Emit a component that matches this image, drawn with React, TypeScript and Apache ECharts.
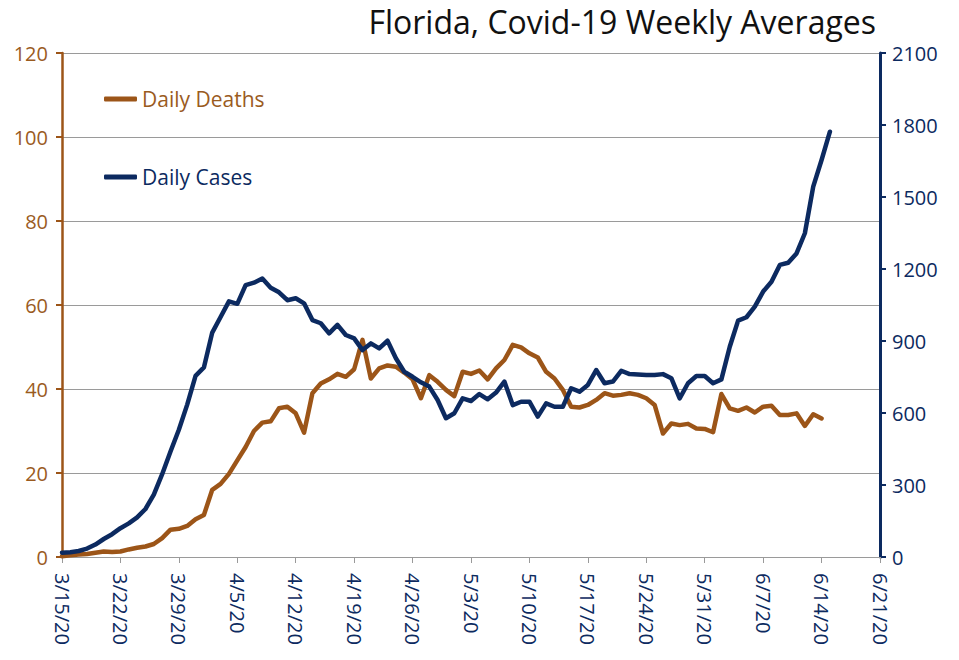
import React, { useEffect, useRef } from "react";
import * as echarts from "echarts";

const TITLE = "Florida, Covid-19 Weekly Averages";
const START_DATE = "2020-03-15";
const DAY_COUNT = 99; // 3/15/20 .. 6/21/20

const deaths: number[] = [
  0.2, 0.4, 0.6, 0.7, 1.0, 1.3, 1.2, 1.3, 1.8, 2.2,
  2.5, 3.1, 4.5, 6.5, 6.7, 7.4, 9.0, 10.0, 16.0, 17.4,
  19.8, 23.0, 26.2, 30.0, 32.0, 32.3, 35.4, 35.8, 34.2, 29.6,
  39.0, 41.3, 42.3, 43.6, 42.9, 44.7, 51.7, 42.5, 44.9, 45.6,
  45.3, 43.9, 42.3, 37.8, 43.3, 41.7, 39.8, 38.3, 44.1, 43.6,
  44.4, 42.3, 44.9, 46.9, 50.5, 49.9, 48.5, 47.5, 44.1, 42.5,
  39.8, 35.8, 35.6, 36.2, 37.4, 39.0, 38.4, 38.6, 39.0, 38.6,
  37.8, 36.2, 29.4, 31.8, 31.4, 31.7, 30.6, 30.5, 29.7, 38.8,
  35.4, 34.8, 35.6, 34.4, 35.8, 36.0, 33.8, 33.8, 34.2, 31.2,
  34.0, 33.0,
];

const cases: number[] = [
  18, 20, 25, 35, 52, 75, 95, 120, 140, 165,
  200, 260, 345, 440, 530, 635, 755, 790, 935, 1000,
  1065, 1055, 1133, 1143, 1160, 1122, 1103, 1070, 1078, 1057,
  987, 974, 932, 967, 925, 911, 862, 890, 869, 901,
  828, 772, 751, 728, 710, 654, 578, 599, 661, 650,
  679, 657, 685, 731, 633, 647, 647, 585, 640, 626,
  626, 703, 689, 717, 779, 724, 731, 776, 762, 760,
  758, 758, 762, 745, 661, 724, 754, 754, 724, 740,
  876, 985, 999, 1043, 1106, 1147, 1217, 1226, 1265, 1349,
  1543, 1654, 1772,
];

const leftTicks = { min: 0, max: 120, interval: 20 };
const rightTicks = { min: 0, max: 2100, interval: 300 };

const BROWN = "#9C5518";
const BROWN_TEXT = "#9A5B1E";
const NAVY = "#0C2A60";
const GRID = "#9a9a9a";
const FONT = "Open Sans";

function buildDates(): string[] {
  const out: string[] = [];
  const d0 = new Date(START_DATE + "T12:00:00");
  for (let i = 0; i < DAY_COUNT; i++) {
    const d = new Date(d0.getTime() + i * 86400000);
    out.push(`${d.getMonth() + 1}/${d.getDate()}/${String(d.getFullYear()).slice(2)}`);
  }
  return out;
}

export default function App() {
  const ref = useRef<HTMLDivElement>(null);
  useEffect(() => {
    if (!ref.current) return;
    const chart = echarts.init(ref.current, undefined, { renderer: "svg" });
    const dates = buildDates();
    chart.setOption({
      animation: false,
      backgroundColor: "#ffffff",
      textStyle: { fontFamily: FONT },
      title: {
        text: TITLE,
        right: 78,
        top: 0,
        textStyle: { fontSize: 32, fontWeight: "normal", color: "#111111", fontFamily: FONT },
      },
      legend: {
        orient: "vertical",
        left: 104,
        top: 87,
        padding: 0,
        itemGap: 54,
        itemWidth: 33,
        itemHeight: 5,
        icon: "roundRect",
        textStyle: { fontSize: 21, fontFamily: FONT, lineHeight: 24 },
        data: [
          { name: "Daily Deaths", textStyle: { color: BROWN_TEXT } },
          { name: "Daily Cases", textStyle: { color: NAVY } },
        ],
      },
      grid: { left: 62, right: 79, top: 53, bottom: 103, containLabel: false },
      xAxis: {
        type: "category",
        data: dates,
        boundaryGap: false,
        axisLine: { show: true, lineStyle: { color: GRID, width: 1 } },
        axisTick: { show: true, interval: 6, length: 6, lineStyle: { color: GRID } },
        axisLabel: {
          interval: 6,
          rotate: -90,
          margin: 16,
          color: NAVY,
          fontSize: 20,
          fontFamily: FONT,
        },
        splitLine: { show: false },
      },
      yAxis: [
        {
          type: "value",
          position: "left",
          ...leftTicks,
          axisLine: { show: true, lineStyle: { color: BROWN, width: 2.5 } },
          axisTick: { show: true, length: 6, lineStyle: { color: BROWN, width: 2 } },
          axisLabel: { color: BROWN_TEXT, fontSize: 20, margin: 14, fontFamily: FONT },
          splitLine: { show: true, lineStyle: { color: GRID, width: 1 } },
        },
        {
          type: "value",
          position: "right",
          ...rightTicks,
          axisLine: { show: true, lineStyle: { color: NAVY, width: 3 } },
          axisTick: { show: true, length: 6, lineStyle: { color: NAVY, width: 2 } },
          axisLabel: {
            color: NAVY,
            fontSize: 20,
            margin: 12,
            fontFamily: FONT,
            formatter: (v: number) => String(v),
          },
          splitLine: { show: false },
        },
      ],
      series: [
        {
          name: "Daily Deaths",
          type: "line",
          yAxisIndex: 0,
          data: deaths,
          showSymbol: false,
          symbol: "none",
          color: BROWN,
          lineStyle: { color: BROWN, width: 4.5, cap: "round", join: "round" },
        },
        {
          name: "Daily Cases",
          type: "line",
          yAxisIndex: 1,
          data: cases,
          showSymbol: false,
          symbol: "none",
          color: NAVY,
          lineStyle: { color: NAVY, width: 4.5, cap: "round", join: "round" },
        },
      ],
    });
    return () => chart.dispose();
  }, []);
  return (
    <div
      ref={ref}
      style={{ position: "fixed", left: 0, top: 0, width: 959, height: 660, background: "#fff" }}
    />
  );
}
